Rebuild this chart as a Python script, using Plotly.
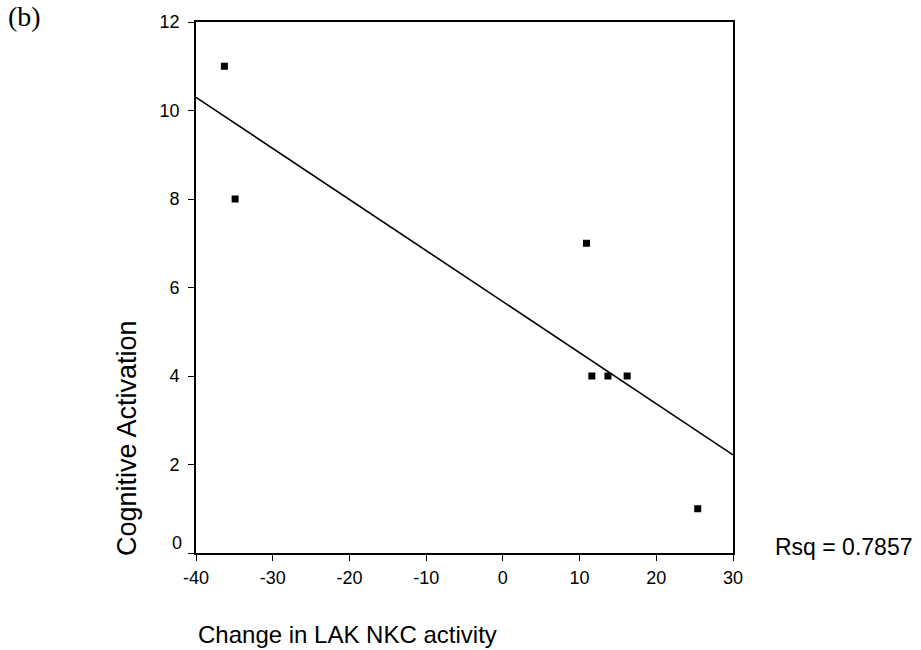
import numpy as np
import plotly.graph_objects as go

# Change in LAK NKC activity vs. cognitive activation score
lak_change = [-36.3, -34.9, 10.9, 11.6, 13.7, 16.2, 25.4]
cog_activation = [11, 8, 7, 4, 4, 4, 1]

x_ticks = [-40, -30, -20, -10, 0, 10, 20, 30]
y_ticks = [0, 2, 4, 6, 8, 10, 12]
x_range = [-40, 30]
y_range = [0, 12]

# Least-squares fit line across the full x range
slope, intercept = np.polyfit(lak_change, cog_activation, 1)
fit_x = np.array(x_range, dtype=float)
fit_y = slope * fit_x + intercept

fig = go.Figure()
fig.add_trace(go.Scatter(
    x=fit_x, y=fit_y, mode="lines",
    line=dict(color="black", width=1.6),
    hoverinfo="skip", showlegend=False,
))
fig.add_trace(go.Scatter(
    x=lak_change, y=cog_activation, mode="markers",
    marker=dict(symbol="square", size=7, color="black"),
    showlegend=False,
))

axis_font = dict(family="Liberation Sans, Arial, sans-serif", size=18, color="black")

fig.update_xaxes(
    range=x_range, tickvals=x_ticks, ticktext=[str(v) for v in x_ticks],
    showline=True, linecolor="black", linewidth=1.6, mirror=True,
    ticks="outside", ticklen=6, tickwidth=1.4, tickcolor="black",
    showgrid=False, zeroline=False, tickfont=axis_font, ticklabelstandoff=2,
)
# The bottom "0" label sits a little above its tick, so it is drawn separately
fig.update_yaxes(
    range=y_range, tickvals=y_ticks,
    ticktext=["" if v == 0 else str(v) for v in y_ticks],
    showline=True, linecolor="black", linewidth=1.6, mirror=True,
    ticks="outside", ticklen=6, tickwidth=1.4, tickcolor="black",
    showgrid=False, zeroline=False, tickfont=axis_font, ticklabelstandoff=5,
)

fig.update_layout(
    width=921, height=650,
    margin=dict(l=196, r=188, t=16, b=97),
    paper_bgcolor="white", plot_bgcolor="white",
    font=dict(family="Liberation Sans, Arial, sans-serif", color="black"),
    annotations=[
        dict(text=str(y_ticks[0]), xref="paper", yref="y", x=0, y=y_ticks[0],
             xanchor="right", yanchor="middle", xshift=-12, yshift=10,
             showarrow=False, font=axis_font),
        dict(text="(b)", xref="paper", yref="paper", x=-0.353, y=1.01,
             xanchor="left", yanchor="middle", showarrow=False,
             font=dict(family="Liberation Serif, Times New Roman, serif", size=28)),
        dict(text="Change in LAK NKC activity", xref="paper", yref="paper",
             x=0.282, y=-0.153, xanchor="center", yanchor="middle", showarrow=False,
             font=dict(size=24)),
        dict(text="Cognitive Activation", xref="paper", yref="paper",
             x=-0.127, y=0.216, xanchor="center", yanchor="middle", showarrow=False,
             textangle=-90, font=dict(size=27)),
        dict(text="Rsq = 0.7857", xref="paper", yref="paper",
             x=1.0745, y=0.011, xanchor="left", yanchor="middle", showarrow=False,
             font=dict(size=23)),
    ],
)

fig.write_html("out.html")
